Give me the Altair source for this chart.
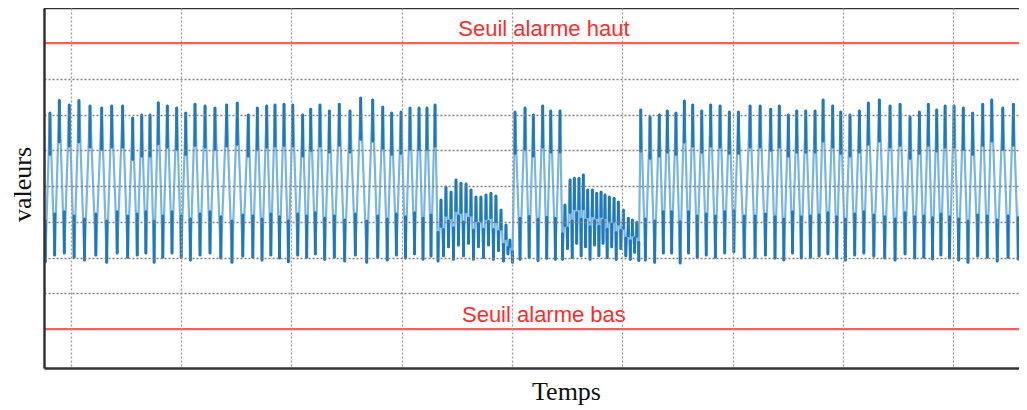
import altair as alt
import pandas as pd

# ---- signal: peak times (x units) / peak values / trough values ----
# Segment A : regular oscillation
seg_a_peak_t = [-1.88, -1.03, -0.13, 0.75, 1.75, 2.81, 3.72, 4.71, 5.62, 6.44,
                7.19, 7.94, 8.76, 9.61, 10.43, 11.27, 12.18, 13.08, 14.14, 15.10,
                16.10, 16.92, 17.77, 18.52, 19.34, 20.13, 21.03, 21.76, 22.60, 23.45,
                24.35, 25.32, 26.29, 27.38, 28.29, 29.10, 29.95, 30.76, 31.58, 32.30,
                33.03]
seg_a_peak_v = [7.04, 7.39, 7.27, 7.39, 7.24, 7.18, 7.24, 7.24, 6.90, 6.99,
                6.99, 7.33, 7.24, 7.18, 7.04, 7.29, 7.24, 7.18, 7.27, 7.32,
                6.99, 7.18, 7.24, 7.27, 7.29, 7.27, 6.99, 7.15, 7.27, 7.10,
                7.29, 7.10, 7.46, 7.41, 7.21, 7.04, 7.07, 7.18, 7.18, 7.18,
                7.27]
seg_a_trough_v = [2.88, 3.07, 3.13, 3.01, 2.93, 3.07, 2.87, 3.13, 3.01, 3.07,
                  3.13, 2.87, 3.01, 3.13, 3.01, 2.93, 3.07, 3.13, 2.99, 2.87,
                  3.04, 3.01, 2.93, 3.07, 2.99, 2.88, 3.07, 3.01, 3.10, 2.95,
                  3.01, 2.90, 3.07, 2.87, 3.01, 2.93, 3.07, 2.99, 3.10, 2.95,
                  3.04]

# Burst 1 : small fast oscillation
burst1_peak_t = [33.57, 34.02, 34.48, 34.93, 35.38, 35.84, 36.29, 36.74, 37.19, 37.65,
                 38.10, 38.55, 39.01, 39.46, 39.82]
burst1_peak_v = [4.61, 4.97, 4.83, 5.17, 5.08, 5.06, 4.89, 4.69, 4.69, 4.75,
                 4.80, 4.72, 4.33, 3.91, 3.49]
burst1_trough_v = [2.90, 3.05, 3.30, 2.95, 3.35, 3.05, 3.40, 2.95, 3.30, 3.00,
                   3.35, 2.95, 3.20, 2.90, 3.10]

# Segment B : short regular oscillation
seg_b_peak_t = [40.28, 41.19, 41.94, 42.79, 43.52, 44.36]
seg_b_peak_v = [7.07, 7.18, 6.99, 7.24, 7.10, 7.10]
seg_b_trough_v = [2.87, 2.95, 3.00, 2.92, 2.98, 2.95]

# Burst 2
burst2_peak_t = [44.81, 45.27, 45.66, 46.08, 46.47, 46.87, 47.29, 47.69, 48.08, 48.44,
                 48.83, 49.26, 49.65, 50.10, 50.55, 50.92, 51.32]
burst2_peak_v = [4.47, 5.17, 5.22, 5.22, 5.31, 4.89, 4.89, 4.80, 4.83, 4.75,
                 4.69, 4.66, 4.55, 4.33, 4.10, 4.05, 3.99]
burst2_trough_v = [2.95, 3.25, 3.00, 3.40, 3.05, 3.30, 2.95, 3.35, 3.05, 3.40,
                   3.00, 3.30, 2.95, 3.25, 3.05, 2.95, 3.15]

# Segment C : regular oscillation until the end
seg_c_peak_t = [51.68, 52.52, 53.36, 54.09, 54.87, 55.63, 56.39, 57.21, 58.02, 58.87,
                59.71, 60.53, 61.59, 62.50, 63.46, 64.24, 65.06, 65.82, 66.64, 67.48,
                68.21, 69.08, 69.81, 70.65, 71.50, 72.31, 73.31, 74.28, 75.19, 76.09,
                76.94, 77.75, 78.51, 79.27, 80.08, 80.92, 81.77, 82.68, 83.50, 84.50,
                85.46, 86.34]
seg_c_peak_v = [7.13, 6.93, 6.99, 7.10, 7.04, 7.38, 7.27, 7.10, 7.27, 7.24,
                7.07, 7.07, 7.24, 7.24, 7.15, 7.24, 6.99, 7.10, 7.10, 7.10,
                7.41, 7.24, 7.07, 6.99, 7.10, 7.32, 7.41, 7.24, 7.29, 6.93,
                7.07, 7.29, 7.13, 7.24, 7.24, 7.18, 7.04, 7.29, 7.41, 7.18,
                7.29, 7.24]
seg_c_trough_v = [2.92, 2.93, 2.87, 3.13, 3.13, 2.85, 3.13, 3.01, 3.07, 3.01,
                  3.13, 3.16, 3.01, 3.01, 3.07, 2.99, 2.93, 3.13, 2.99, 3.01,
                  3.04, 3.10, 2.99, 2.93, 3.07, 3.13, 3.04, 2.99, 2.93, 3.10,
                  2.99, 3.01, 2.96, 3.07, 2.99, 2.93, 2.87, 3.04, 3.01, 2.90,
                  3.01, 2.96]
final_trough_v = 2.95

# thresholds
threshold_v = [9, 1]
threshold_label = ["Seuil alarme haut", "Seuil alarme bas"]
label_t = [42.9, 42.9]

grid_x = [0, 10, 20, 30, 40, 50, 60, 70, 80]
grid_y = [2, 3, 4, 5, 6, 7, 8]

X_DOMAIN = [-2.42, 85.97]
Y_DOMAIN = [-0.09, 9.98]
W, H = 975, 360
TIP = 1.15       # max length (value units) of the darker part near each extremum
TIP_FRAC = 0.47  # never more than this share of the local swing

# ---- build stroke list (trough -> peak -> trough ...) ----
peaks_t = seg_a_peak_t + burst1_peak_t + seg_b_peak_t + burst2_peak_t + seg_c_peak_t
peaks_v = seg_a_peak_v + burst1_peak_v + seg_b_peak_v + burst2_peak_v + seg_c_peak_v
troughs_v = seg_a_trough_v + burst1_trough_v + seg_b_trough_v + burst2_trough_v + seg_c_trough_v

pts = []
kinds = []
n = len(peaks_t)
for i in range(n):
    if i == 0:
        tt = peaks_t[0] - (peaks_t[1] - peaks_t[0]) / 2
    else:
        tt = (peaks_t[i - 1] + peaks_t[i]) / 2
    pts.append((tt, troughs_v[i])); kinds.append(-1)
    pts.append((peaks_t[i], peaks_v[i])); kinds.append(1)
pts.append((peaks_t[-1] + (peaks_t[-1] - peaks_t[-2]) / 2, final_trough_v)); kinds.append(-1)

strokes = pd.DataFrame({
    "t": [p[0] for p in pts[:-1]],
    "v": [p[1] for p in pts[:-1]],
    "t2": [p[0] for p in pts[1:]],
    "v2": [p[1] for p in pts[1:]],
})

tip_t, tip_v, tip_v2 = [], [], []
for j, (p, k) in enumerate(zip(pts, kinds)):
    neigh = [pts[m][1] for m in (j - 1, j + 1) if 0 <= m < len(pts)]
    swing = min(abs(p[1] - q) for q in neigh)
    length = min(TIP, TIP_FRAC * swing)
    tip_t.append(p[0]); tip_v.append(p[1]); tip_v2.append(p[1] - k * length)
tips = pd.DataFrame({"t": tip_t, "v": tip_v, "v2": tip_v2})

xscale = alt.Scale(domain=X_DOMAIN, nice=False, zero=False)
yscale = alt.Scale(domain=Y_DOMAIN, nice=False, zero=False)

xaxis = alt.Axis(values=grid_x, labels=False, ticks=False, grid=True,
                 gridColor="#9a9a9a", gridDash=[2, 2], gridWidth=1.3,
                 domain=True, domainColor="#333333", domainWidth=2.5,
                 title="Temps", titleFont="Liberation Serif", titleFontSize=26,
                 titleFontWeight="normal", titleColor="#111111",
                 titleX=522, titleY=31, titleAlign="center", titleBaseline="alphabetic",
                 zindex=1)
yaxis = alt.Axis(values=grid_y, labels=False, ticks=False, grid=True,
                 gridColor="#808080", gridDash=[2, 2], gridWidth=1.5,
                 domain=True, domainColor="#333333", domainWidth=2.5,
                 title="valeurs", titleFont="Liberation Serif", titleFontSize=26,
                 titleFontWeight="normal", titleColor="#111111",
                 titleX=-14, titleY=176, titleAngle=270, titleAlign="center",
                 titleBaseline="alphabetic", zindex=1)

signal = alt.Chart(strokes).mark_rule(
    color="#78b6e1", strokeWidth=2.2, strokeCap="round", clip=True
).encode(
    x=alt.X("t:Q", scale=xscale, axis=xaxis),
    y=alt.Y("v:Q", scale=yscale, axis=yaxis),
    x2="t2:Q",
    y2="v2:Q",
)

signal_tips = alt.Chart(tips).mark_rule(
    color="#1f78b8", strokeWidth=3, strokeCap="round", clip=True
).encode(
    x=alt.X("t:Q", scale=xscale),
    y=alt.Y("v:Q", scale=yscale),
    y2="v2:Q",
)

thr = pd.DataFrame({"v": threshold_v, "label": threshold_label, "t": label_t})

red_lines = alt.Chart(thr).mark_rule(color="#ff5c5c", strokeWidth=2.2).encode(
    y=alt.Y("v:Q", scale=yscale)
)
red_text = alt.Chart(thr).mark_text(
    font="Liberation Sans", fontSize=22, color="#ff2b2b",
    baseline="alphabetic", align="center", dy=-7
).encode(
    x=alt.X("t:Q", scale=xscale),
    y=alt.Y("v:Q", scale=yscale),
    text="label:N",
)

top_border = alt.Chart(pd.DataFrame({"a": [0]})).mark_rule(
    color="#333333", strokeWidth=2.5
).encode(y=alt.value(0), x=alt.value(0), x2=alt.value(W))

chart = alt.layer(signal, signal_tips, red_lines, red_text, top_border).properties(
    width=W, height=H,
    autosize=alt.AutoSizeParams(type="none"),
    padding={"left": 36, "top": 0, "right": 0, "bottom": 42},
).configure_view(stroke=None).configure(background="white")

chart.save("out.html", embed_options={"renderer": "svg", "actions": False})
